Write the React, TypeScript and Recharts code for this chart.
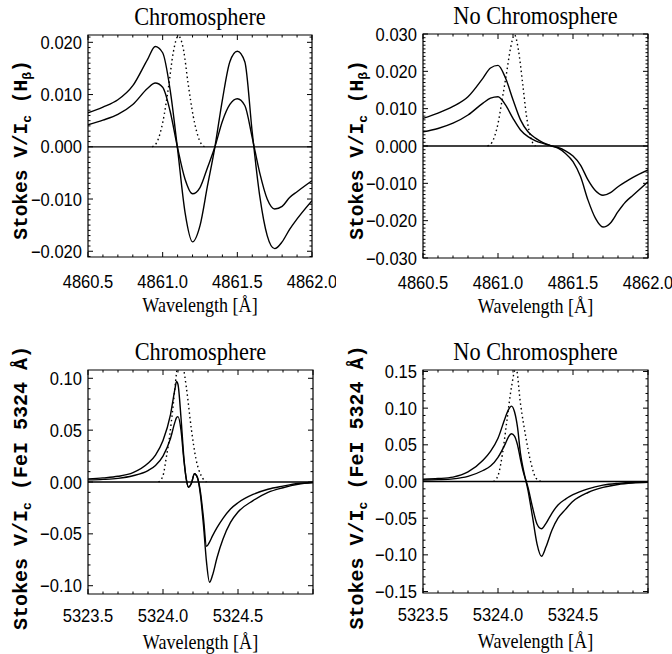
import { LineChart, Line, XAxis, YAxis, ReferenceLine, ReferenceArea } from "recharts";

// ---- H-beta, chromosphere (top left) ----
const hbChromX = [4860.5, 4860.6, 4860.7, 4860.8, 4860.9, 4860.95, 4861.0, 4861.05, 4861.1, 4861.15, 4861.2, 4861.25, 4861.3, 4861.35, 4861.4, 4861.45, 4861.5, 4861.55, 4861.6, 4861.65, 4861.7, 4861.75, 4861.8, 4861.85, 4861.9, 4862.0];
const hbChromStrong = [0.0065, 0.0076, 0.009, 0.0117, 0.0168, 0.0192, 0.018, 0.0109, -0.0005, -0.0126, -0.0182, -0.0151, -0.0075, 0.0, 0.009, 0.0163, 0.0183, 0.0163, 0.0027, -0.0094, -0.017, -0.0195, -0.0182, -0.0158, -0.0138, -0.0103];
const hbChromWeak = [0.0042, 0.0051, 0.0062, 0.0081, 0.0112, 0.0122, 0.0114, 0.0068, -0.0002, -0.0062, -0.009, -0.0078, -0.004, 0.0, 0.0049, 0.0081, 0.0092, 0.0079, 0.0017, -0.005, -0.01, -0.0119, -0.0114, -0.0097, -0.0086, -0.0065];
const hbChromIntX = [4860.93, 4860.96, 4861.0, 4861.04, 4861.07, 4861.105, 4861.14, 4861.17, 4861.205, 4861.25, 4861.28];
const hbChromInt = [0, 0.0008, 0.0046, 0.0116, 0.0179, 0.0212, 0.0185, 0.0122, 0.0058, 0.001, 0];

// ---- H-beta, no chromosphere (top right) ----
const hbNoChromX = hbChromX;
const hbNoChromStrong = [0.0074, 0.0088, 0.0106, 0.0132, 0.0182, 0.0209, 0.0216, 0.0182, 0.0124, 0.007, 0.0038, 0.0021, 0.0009, 0.0001, -0.0006, -0.002, -0.0042, -0.0082, -0.0145, -0.0194, -0.0217, -0.0206, -0.0176, -0.015, -0.0132, -0.0096];
const hbNoChromWeak = [0.0038, 0.0047, 0.0061, 0.0083, 0.0115, 0.0128, 0.0132, 0.011, 0.0074, 0.0043, 0.0025, 0.0014, 0.0007, 0.0001, -0.0004, -0.0013, -0.0027, -0.0051, -0.0091, -0.012, -0.0132, -0.0125, -0.0109, -0.0096, -0.0084, -0.0064];
const hbNoChromIntX = [4860.93, 4860.96, 4861.0, 4861.03, 4861.055, 4861.085, 4861.11, 4861.135, 4861.165, 4861.19, 4861.22, 4861.25];
const hbNoChromInt = [0, 0.001, 0.006, 0.013, 0.019, 0.0265, 0.0298, 0.026, 0.0165, 0.008, 0.002, 0];

// ---- Fe I 5324, chromosphere (bottom left) ----
const feChromX = [5323.5, 5323.6, 5323.7, 5323.8, 5323.9, 5323.95, 5324.0, 5324.05, 5324.08, 5324.09, 5324.1, 5324.12, 5324.14, 5324.155, 5324.17, 5324.19, 5324.21, 5324.23, 5324.25, 5324.27, 5324.29, 5324.31, 5324.33, 5324.36, 5324.4, 5324.45, 5324.5, 5324.6, 5324.7, 5324.8, 5324.9, 5325.0];
const feChromStrong = [0.003, 0.004, 0.0055, 0.009, 0.018, 0.026, 0.04, 0.065, 0.09, 0.097, 0.094, 0.062, 0.022, 0.003, -0.005, -0.001, 0.008, 0.004, -0.013, -0.042, -0.077, -0.0966, -0.09, -0.073, -0.055, -0.039, -0.029, -0.018, -0.01, -0.0055, -0.0022, -0.0006];
const feChromWeak = [0.002, 0.0025, 0.0035, 0.006, 0.011, 0.016, 0.025, 0.042, 0.058, 0.062, 0.063, 0.05, 0.02, 0.003, -0.005, -0.001, 0.008, 0.004, -0.01, -0.035, -0.062, -0.058, -0.052, -0.044, -0.035, -0.026, -0.02, -0.012, -0.007, -0.004, -0.0015, -0.0005];
const feChromIntX = [5323.97, 5324.0, 5324.02, 5324.045, 5324.067, 5324.09, 5324.11, 5324.13, 5324.155, 5324.19, 5324.22, 5324.255, 5324.29];
const feChromInt = [0, 0.006, 0.022, 0.045, 0.073, 0.105, 0.125, 0.115, 0.092, 0.05, 0.022, 0.006, 0];

// ---- Fe I 5324, no chromosphere (bottom right) ----
const feNoChromX = [5323.5, 5323.6, 5323.7, 5323.8, 5323.9, 5323.95, 5324.0, 5324.05, 5324.07, 5324.09, 5324.11, 5324.13, 5324.15, 5324.17, 5324.2, 5324.23, 5324.26, 5324.29, 5324.32, 5324.36, 5324.4, 5324.45, 5324.5, 5324.6, 5324.7, 5324.8, 5324.9, 5325.0];
const feNoChromStrong = [0.003, 0.004, 0.006, 0.013, 0.029, 0.041, 0.059, 0.088, 0.098, 0.1027, 0.095, 0.074, 0.038, 0.0155, -0.012, -0.048, -0.085, -0.102, -0.089, -0.066, -0.05, -0.038, -0.027, -0.015, -0.008, -0.004, -0.002, -0.001];
const feNoChromWeak = [0.002, 0.0025, 0.0036, 0.007, 0.015, 0.021, 0.033, 0.052, 0.061, 0.065, 0.062, 0.05, 0.03, 0.012, -0.008, -0.035, -0.058, -0.0645, -0.057, -0.043, -0.032, -0.024, -0.018, -0.01, -0.005, -0.0025, -0.001, -0.0005];
const feNoChromIntX = [5323.97, 5324.0, 5324.03, 5324.06, 5324.09, 5324.12, 5324.15, 5324.185, 5324.22, 5324.255, 5324.29];
const feNoChromInt = [0, 0.008, 0.038, 0.084, 0.129, 0.155, 0.106, 0.061, 0.025, 0.004, 0];

// tick values
const hbXMajor = [4860.5, 4861.0, 4861.5, 4862.0];
const hbXLabels = ["4860.5", "4861.0", "4861.5", "4862.0"];
const feXMajor = [5323.5, 5324.0, 5324.5, 5325.0];
const feXLabels = ["5323.5", "5324.0", "5324.5", ""];
const hbChromYMajor = [-0.02, -0.01, 0, 0.01, 0.02];
const hbNoChromYMajor = [-0.03, -0.02, -0.01, 0, 0.01, 0.02, 0.03];
const feChromYMajor = [-0.1, -0.05, 0, 0.05, 0.1];
const feNoChromYMajor = [-0.15, -0.1, -0.05, 0, 0.05, 0.1, 0.15];

const SANS = "'Liberation Sans', Arial, sans-serif";
const SERIF = "'Liberation Serif', 'Times New Roman', serif";
const MONO = "'Liberation Mono', 'DejaVu Sans Mono', monospace";
const W = 336;
const H = 327;

interface Panel {
    id: string;
    left: number;
    top: number;
    l: number;
    r: number;
    t: number;
    b: number;
    title: string;
    line: "hb" | "fe";
    xDomain: [number, number];
    yDomain: [number, number];
    xMajor: number[];
    xLabels: string[];
    yMajor: number[];
    yMinor: number;
    yDecimals: number;
    xTickDy: number;
    solidX: number[];
    strong: number[];
    weak: number[];
    intX: number[];
    intY: number[];
}

const panels: Panel[] = [
    {
        id: "tl", left: 0, top: 0, l: 88, r: 312, t: 35, b: 257,
        title: "Chromosphere", line: "hb",
        xDomain: [4860.5, 4862.0], yDomain: [-0.0211, 0.0214],
        xMajor: hbXMajor, xLabels: hbXLabels, yMajor: hbChromYMajor, yMinor: 0.001, yDecimals: 3, xTickDy: 31,
        solidX: hbChromX, strong: hbChromStrong, weak: hbChromWeak, intX: hbChromIntX, intY: hbChromInt,
    },
    {
        id: "tr", left: 336, top: 0, l: 87, r: 312, t: 34, b: 258,
        title: "No Chromosphere", line: "hb",
        xDomain: [4860.5, 4862.0], yDomain: [-0.03, 0.03],
        xMajor: hbXMajor, xLabels: hbXLabels, yMajor: hbNoChromYMajor, yMinor: 0.001, yDecimals: 3, xTickDy: 31,
        solidX: hbNoChromX, strong: hbNoChromStrong, weak: hbNoChromWeak, intX: hbNoChromIntX, intY: hbNoChromInt,
    },
    {
        id: "bl", left: 0, top: 327, l: 88, r: 313, t: 43, b: 267,
        title: "Chromosphere", line: "fe",
        xDomain: [5323.5, 5325.0], yDomain: [-0.108, 0.108],
        xMajor: feXMajor, xLabels: feXLabels, yMajor: feChromYMajor, yMinor: 0.01, yDecimals: 2, xTickDy: 28,
        solidX: feChromX, strong: feChromStrong, weak: feChromWeak, intX: feChromIntX, intY: feChromInt,
    },
    {
        id: "br", left: 336, top: 327, l: 87, r: 312, t: 43, b: 266,
        title: "No Chromosphere", line: "fe",
        xDomain: [5323.5, 5325.0], yDomain: [-0.152, 0.152],
        xMajor: feXMajor, xLabels: feXLabels, yMajor: feNoChromYMajor, yMinor: 0.01, yDecimals: 2, xTickDy: 28,
        solidX: feNoChromX, strong: feNoChromStrong, weak: feNoChromWeak, intX: feNoChromIntX, intY: feNoChromInt,
    },
];

function stepTicks(lo: number, hi: number, step: number) {
    const out: number[] = [];
    for (let k = Math.ceil(lo / step - 1e-6); k * step <= hi + 1e-9; k++) {
        out.push(+(k * step).toFixed(6));
    }
    return out;
}

const near = (a: number, b: number, tol: number) => Math.abs(a - b) < tol;

function fmtY(v: number, dec: number) {
    const s = Math.abs(v).toFixed(dec);
    return v < -1e-9 ? "\u2212" + s : s;
}

function makeXTick(p: Panel) {
    return (props: any) => {
        const x = props.x;
        const v = props.payload.value;
        const idx = p.xMajor.findIndex((m) => near(m, v, 0.01));
        const len = idx >= 0 ? 5 : 2.5;
        const label = idx >= 0 ? p.xLabels[idx] : "";
        return (
            <g>
                <line x1={x} x2={x} y1={p.b} y2={p.b - len} stroke="#000" strokeWidth={1} />
                <line x1={x} x2={x} y1={p.t} y2={p.t + len} stroke="#000" strokeWidth={1} />
                {label && (
                    <text
                        transform={`translate(${x},${p.b + p.xTickDy}) scale(0.92,1)`}
                        textAnchor="middle"
                        fontFamily={SANS}
                        fontSize={18}
                        fill="#000"
                    >
                        {label}
                    </text>
                )}
            </g>
        );
    };
}

function makeYTick(p: Panel) {
    return (props: any) => {
        const y = props.y;
        const v = props.payload.value;
        const major = p.yMajor.some((m) => near(m, v, p.yMinor / 10));
        const len = major ? 5 : 2.5;
        return (
            <g>
                <line x1={p.l} x2={p.l + len} y1={y} y2={y} stroke="#000" strokeWidth={1} />
                <line x1={p.r} x2={p.r - len} y1={y} y2={y} stroke="#000" strokeWidth={1} />
                {major && (
                    <text
                        transform={`translate(${p.l - 6},${y + 6.5}) scale(0.92,1)`}
                        textAnchor="end"
                        fontFamily={SANS}
                        fontSize={18}
                        fill="#000"
                    >
                        {fmtY(v, p.yDecimals)}
                    </text>
                )}
            </g>
        );
    };
}

function StokesPanel({ p }: { p: Panel }) {
    const solidStrong = p.solidX.map((x, i) => ({ x, y: p.strong[i] }));
    const solidWeak = p.solidX.map((x, i) => ({ x, y: p.weak[i] }));
    const intensity = p.intX.map((x, i) => ({ x, y: p.intY[i] }));
    const xTicks = stepTicks(p.xDomain[0], p.xDomain[1], 0.1);
    const yTicks = stepTicks(p.yDomain[0], p.yDomain[1], p.yMinor);
    const cx = (p.l + p.r) / 2;
    const cy = (p.t + p.b) / 2;

    return (
        <div style={{ position: "absolute", left: p.left, top: p.top, width: W, height: H }}>
            <LineChart
                width={W}
                height={H}
                margin={{ top: p.t, right: W - p.r, left: p.l - 60, bottom: H - p.b - 40 }}
            >
                <XAxis
                    dataKey="x"
                    type="number"
                    domain={p.xDomain}
                    allowDataOverflow
                    ticks={xTicks}
                    interval={0}
                    height={40}
                    axisLine={false}
                    tickLine={false}
                    tick={makeXTick(p)}
                />
                <YAxis
                    type="number"
                    domain={p.yDomain}
                    allowDataOverflow
                    ticks={yTicks}
                    interval={0}
                    width={60}
                    axisLine={false}
                    tickLine={false}
                    tick={makeYTick(p)}
                />
                <ReferenceLine y={0} stroke="#000" strokeWidth={1.3} />
                <Line data={intensity} dataKey="y" type="monotone" stroke="#000" strokeWidth={1.4}
                    strokeDasharray="1.5 3" dot={false} isAnimationActive={false} />
                <Line data={solidStrong} dataKey="y" type="monotone" stroke="#000" strokeWidth={1.4}
                    dot={false} isAnimationActive={false} />
                <Line data={solidWeak} dataKey="y" type="monotone" stroke="#000" strokeWidth={1.4}
                    dot={false} isAnimationActive={false} />
                <ReferenceArea x1={p.xDomain[0]} x2={p.xDomain[1]} y1={p.yDomain[0]} y2={p.yDomain[1]}
                    fill="none" fillOpacity={0} stroke="#000" strokeWidth={1.2} />
            </LineChart>
            <svg width={W} height={H} style={{ position: "absolute", left: 0, top: 0, pointerEvents: "none" }}>
                <text transform={`translate(${cx},${p.t - 10}) scale(0.86,1)`} textAnchor="middle"
                    fontFamily={SERIF} fontSize={26} fill="#000">
                    {p.title}
                </text>
                <text transform={`translate(${cx},${p.b + 55}) scale(0.86,1)`} textAnchor="middle"
                    fontFamily={SERIF} fontSize={21} fill="#000">
                    Wavelength [Å]
                </text>
                <text transform={`translate(27,${p.line === "hb" ? cy + 4 : cy + 6}) rotate(-90)`} textAnchor="middle"
                    fontFamily={MONO} fontWeight="bold" fontSize={p.line === "hb" ? 19.5 : 20} fill="#000">
                    Stokes V/I
                    <tspan fontSize={13} dy={4}>c</tspan>
                    {p.line === "hb" ? (
                        <>
                            <tspan dy={-4}> (H</tspan>
                            <tspan fontSize={13} dy={4}>β</tspan>
                            <tspan dy={-4}>)</tspan>
                        </>
                    ) : (
                        <tspan dy={-4}> (FeI 5324 Å)</tspan>
                    )}
                </text>
            </svg>
        </div>
    );
}

export default function App() {
    return (
        <div style={{ position: "absolute", left: 0, top: 0, width: 672, height: 654, background: "#fff" }}>
            {panels.map((p) => (
                <StokesPanel key={p.id} p={p} />
            ))}
        </div>
    );
}
